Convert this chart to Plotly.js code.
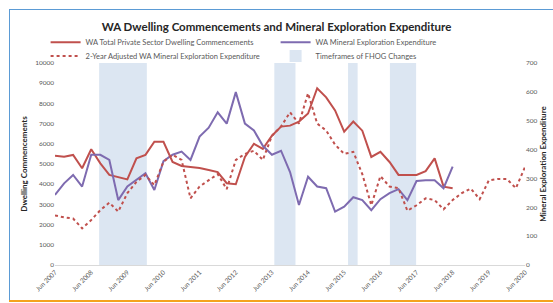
<!DOCTYPE html>
<html>
<head>
<meta charset="utf-8">
<script src="https://cdn.plot.ly/plotly-3.0.1.min.js"></script>
<style>
  html, body { margin: 0; padding: 0; background: #ffffff; }
  #wrap { position: relative; width: 553px; height: 303px; overflow: hidden; }
  #chart { position: absolute; left: 0; top: 0; width: 553px; height: 303px; }
  .frameL { position: absolute; left: 9px; top: 9px; width: 1px; height: 292px; background: #5b9bd5; }
  .frameT { position: absolute; left: 9px; top: 9px; width: 544px; height: 1px; background: #5b9bd5; }
  .frameB { position: absolute; left: 9px; top: 300px; width: 544px; height: 2px; background: #f4a31c; }
</style>
</head>
<body>
<div id="wrap">
  <div id="chart"></div>
  <div class="frameL"></div>
  <div class="frameT"></div>
  <div class="frameB"></div>
</div>
<script>
// Quarterly categories (Jun 2007 .. Jun 2020)
const quarters = [
  "2007-06-01","2007-09-01","2007-12-01","2008-03-01",
  "2008-06-01","2008-09-01","2008-12-01","2009-03-01",
  "2009-06-01","2009-09-01","2009-12-01","2010-03-01",
  "2010-06-01","2010-09-01","2010-12-01","2011-03-01",
  "2011-06-01","2011-09-01","2011-12-01","2012-03-01",
  "2012-06-01","2012-09-01","2012-12-01","2013-03-01",
  "2013-06-01","2013-09-01","2013-12-01","2014-03-01",
  "2014-06-01","2014-09-01","2014-12-01","2015-03-01",
  "2015-06-01","2015-09-01","2015-12-01","2016-03-01",
  "2016-06-01","2016-09-01","2016-12-01","2017-03-01",
  "2017-06-01","2017-09-01","2017-12-01","2018-03-01",
  "2018-06-01","2018-09-01","2018-12-01","2019-03-01",
  "2019-06-01","2019-09-01","2019-12-01","2020-03-01",
  "2020-06-01"
];

// WA Total Private Sector Dwelling Commencements (left axis), Jun 2007 .. Jun 2018
const dwelling = [
  5410, 5360, 5450, 4790, 5730, 5030, 4460, 4370,
  4240, 5280, 5450, 6100, 6100, 5100, 4900, 4850,
  4800, 4700, 4600, 4050, 4000, 5350, 6000, 5750,
  6400, 6850, 6900, 7100, 7500, 8750, 8300, 7650,
  6600, 7100, 6650, 5350, 5600, 5100, 4460, 4460,
  4460, 4650, 5280, 3880, 3800
];

// WA Mineral Exploration Expenditure (right axis, $m), Jun 2007 .. Jun 2018
const exploration = [
  243, 283, 312, 272, 382, 382, 364, 225,
  272, 294, 318, 260, 360, 382, 393, 364,
  445, 476, 529, 490, 599, 490, 466, 413,
  382, 396, 322, 208, 306, 272, 266, 185,
  202, 235, 225, 190, 228, 249, 263, 225,
  291, 294, 294, 266, 341
];

// 2-Year Adjusted WA Mineral Exploration Expenditure (right axis, $m), Jun 2007 .. Jun 2020
const adjusted = [
  172, 165, 161, 127, 156, 190, 216, 185,
  249, 288, 312, 277, 358, 382, 364, 231,
  272, 294, 315, 263, 364, 385, 396, 364,
  448, 480, 529, 490, 595, 490, 466, 417,
  385, 392, 315, 207, 308, 272, 266, 188,
  207, 231, 225, 193, 225, 249, 265, 228,
  293, 298, 298, 266, 340
];

// Timeframes of FHOG changes
const fhogStart = ["2008-08-20", "2013-06-25", "2015-07-10", "2016-09-05"];
const fhogEnd   = ["2009-12-15", "2014-01-25", "2015-10-15", "2017-05-28"];

const RED = "#c0504d";
const PURPLE = "#7e6bb0";
const SHADE = "#dce6f2";
const FONT = "Lato, 'Liberation Sans', sans-serif";

const traces = [
  {
    name: "WA Total Private Sector Dwelling Commencements",
    x: quarters.slice(0, dwelling.length), y: dwelling,
    type: "scatter", mode: "lines",
    line: { color: RED, width: 2 },
    yaxis: "y", legend: "legend"
  },
  {
    name: "WA Mineral Exploration Expenditure",
    x: quarters.slice(0, exploration.length), y: exploration,
    type: "scatter", mode: "lines",
    line: { color: PURPLE, width: 2 },
    yaxis: "y2", legend: "legend"
  },
  {
    name: "2-Year Adjusted WA Mineral Exploration Expenditure",
    x: quarters.slice(0, adjusted.length), y: adjusted,
    type: "scatter", mode: "lines",
    line: { color: RED, width: 2, dash: "dot" },
    yaxis: "y2", legend: "legend2"
  }
];

const shapes = fhogStart.map((s, i) => ({
  type: "rect", xref: "x", yref: "paper",
  x0: s, x1: fhogEnd[i], y0: 0, y1: 1,
  fillcolor: SHADE, line: { width: 0 }, layer: "below",
  name: "Timeframes of FHOG Changes",
  showlegend: i === 0, legend: "legend2"
}));

const legendCommon = {
  orientation: "h",
  x: -0.02, xanchor: "left",
  yanchor: "top",
  entrywidth: 185, entrywidthmode: "pixels",
  font: { family: FONT, size: 7.5, color: "#595959" },
  bgcolor: "rgba(0,0,0,0)",
  itemwidth: 30
};

const layout = {
  width: 553, height: 303,
  margin: { l: 55, r: 28, t: 63, b: 38 },
  paper_bgcolor: "rgba(0,0,0,0)",
  plot_bgcolor: "#ffffff",
  font: { family: FONT, size: 7, color: "#595959" },
  title: {
    text: "<b>WA Dwelling Commencements and Mineral Exploration Expenditure</b>",
    font: { family: FONT, size: 11.5, color: "#262626" },
    x: 0.5, xanchor: "center", y: 0.912, yanchor: "middle"
  },
  showlegend: true,
  legend: Object.assign({}, legendCommon, { y: 1.175 }),
  legend2: Object.assign({}, legendCommon, { y: 1.106 }),
  xaxis: {
    type: "date",
    range: ["2007-06-01", "2020-06-01"],
    tick0: "2007-06-01", dtick: "M12",
    tickformat: "%b %Y",
    tickangle: -45,
    tickfont: { family: FONT, size: 6.5, color: "#595959" },
    showgrid: false, zeroline: false,
    showline: true, linecolor: "#d9d9d9", linewidth: 1,
    ticks: ""
  },
  yaxis: {
    range: [0, 10000], dtick: 1000,
    tickformat: "d",
    tickfont: { family: FONT, size: 6.5, color: "#595959" },
    showgrid: false, zeroline: false, showline: false, ticks: "",
    title: { text: "<b>Dwelling Commencements</b>", font: { family: FONT, size: 8, color: "#262626" }, standoff: 6 }
  },
  yaxis2: {
    overlaying: "y", side: "right",
    range: [0, 700], dtick: 100,
    tickfont: { family: FONT, size: 6.5, color: "#595959" },
    showgrid: false, zeroline: false, showline: false, ticks: "",
    title: { text: "<b>Mineral Exploration Expenditure</b>", font: { family: FONT, size: 8, color: "#262626" }, standoff: 3 }
  },
  shapes: shapes
};

Plotly.newPlot("chart", traces, layout, { staticPlot: true, displayModeBar: false });
</script>
</body>
</html>
